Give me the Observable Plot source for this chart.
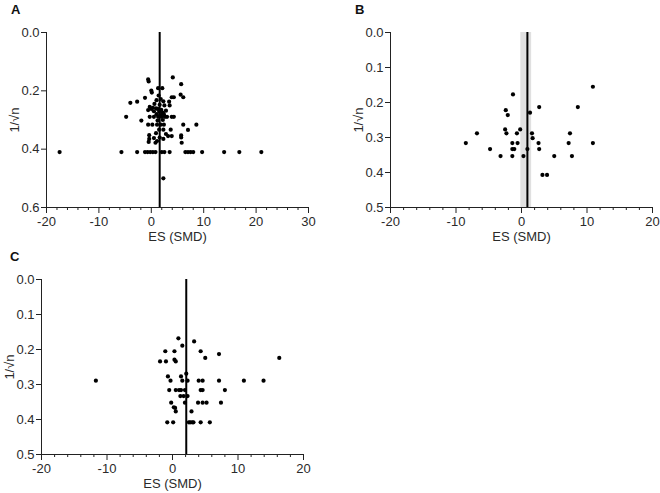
<!DOCTYPE html>
<html>
<head>
<meta charset="utf-8">
<script src="https://cdn.jsdelivr.net/npm/d3@7"></script>
<script src="https://cdn.jsdelivr.net/npm/@observablehq/plot@0.6"></script>
<style>
  html, body { margin: 0; padding: 0; background: #fff; }
  #wrap { position: relative; width: 660px; height: 493px; font-family: "Liberation Sans", Arial, sans-serif; }
  .panel { position: absolute; }
  .tag { position: absolute; font-weight: bold; font-size: 13px; color: #111; }
</style>
</head>
<body>
<div id="wrap"></div>
<script>
// ---------- Panel A data ----------
const aX = [-0.6,-0.5,4.1,5.7,0.0,0.1,1.3,2.1,5.6,6.1,3.9,4.3,-1.2,3.4,-4.0,-2.7,
  1.4,1.8,1.0,2.3,0.6,1.6,2.5,-0.3,0.3,0.9,1.2,1.9,-0.6,0.5,1.5,2.2,3.5,0.0,2.8,1.0,1.7,2.4,
  -4.8,-0.3,0.5,1.3,2.0,2.6,3.0,3.9,4.3,
  -1.9,1.2,2.2,
  -0.6,0.2,1.1,1.8,2.4,6.1,8.6,
  7.0,3.7,1.5,2.3,
  0.9,2.8,-0.4,3.2,3.9,5.7,5.7,1.6,
  -0.4,-0.5,0.5,1.1,2.3,5.8,0.8,
  -17.5,-5.7,-2.7,-1.2,-0.7,-0.2,0.3,0.8,2.0,2.5,3.5,6.5,7.0,7.5,8.0,9.7,13.9,16.8,21.0,
  2.3];
const aY = [0.161,0.168,0.154,0.177,0.199,0.206,0.191,0.191,0.213,0.222,0.222,0.222,0.224,0.237,0.241,0.237,
  0.216,0.228,0.232,0.236,0.245,0.248,0.25,0.255,0.258,0.26,0.262,0.265,0.266,0.27,0.272,0.275,0.25,0.262,0.268,0.28,0.283,0.28,
  0.289,0.289,0.289,0.289,0.289,0.289,0.289,0.289,0.289,
  0.302,0.302,0.30,
  0.316,0.316,0.316,0.316,0.316,0.316,0.316,
  0.334,0.333,0.333,0.333,
  0.345,0.348,0.352,0.355,0.355,0.353,0.36,0.36,
  0.365,0.375,0.362,0.372,0.365,0.378,0.378,
  0.41,0.41,0.41,0.41,0.41,0.41,0.41,0.41,0.41,0.41,0.41,0.41,0.41,0.41,0.41,0.41,0.41,0.41,0.41,
  0.50];
const aPooled = [1.6];
const aXTicks = [-20,-10,0,10,20,30];
const aYTicks = [0,0.2,0.4,0.6];

// ---------- Panel B data ----------
const bX = [-8.5,-6.8,-4.8,-3.2,-1.3,-2.4,-2.1,-2.5,-2.3,-1.4,-1.4,-1.1,-1.4,-0.7,-0.6,-0.2,0.3,0.9,1.3,1.6,1.7,2.6,2.7,2.7,3.2,3.9,5.0,7.2,7.4,7.7,8.6,10.9,10.9];
const bY = [0.316,0.288,0.333,0.353,0.177,0.222,0.236,0.277,0.288,0.316,0.333,0.333,0.353,0.288,0.316,0.277,0.353,0.333,0.229,0.288,0.302,0.316,0.333,0.213,0.407,0.407,0.353,0.316,0.288,0.353,0.213,0.155,0.316];
const bPooled = [0.9];
const bBand = [-0.1, 1.55];
const bXTicks = [-20,-10,0,10,20];
const bYTicks = [0,0.1,0.2,0.3,0.4,0.5];

// ---------- Panel C data ----------
const cX = [-11.7,0.9,3.3,1.5,-1.1,0.3,4.3,7.1,5.0,16.3,-1.9,-1.0,0.3,0.5,2.1,-0.7,1.3,1.5,-0.3,2.3,4.0,4.6,7.1,10.9,13.9,
  -0.5,0.5,1.0,1.3,1.9,4.3,4.6,8.0,1.2,1.7,2.3,-0.2,1.9,3.9,4.6,5.2,7.4,0.2,0.4,0.5,2.9,-0.8,0.1,2.5,2.7,3.0,3.2,4.3,5.7];
const cY = [0.289,0.168,0.177,0.189,0.205,0.205,0.205,0.213,0.224,0.224,0.234,0.234,0.229,0.234,0.269,0.277,0.277,0.289,0.289,0.289,0.289,0.289,0.289,0.289,0.289,
  0.316,0.316,0.316,0.316,0.316,0.316,0.316,0.316,0.333,0.333,0.333,0.352,0.352,0.352,0.352,0.352,0.352,0.365,0.367,0.377,0.377,0.408,0.408,0.408,0.408,0.408,0.408,0.408,0.408];
const cPooled = [2.1];
const cXTicks = [-20,-10,0,10,20];
const cYTicks = [0,0.1,0.2,0.3,0.4,0.5];

const yLabel = "1/\u221An";
const xLabel = "ES (SMD)";

function funnel({xs, ys, pooled, band, xTicks, yTicks, width, height, mL, mR, mT, mB}) {
  const pts = xs.map((x, i) => ({x, y: ys[i]}));
  const xMin = xTicks[0], xMax = xTicks[xTicks.length - 1];
  const yMax = yTicks[yTicks.length - 1];
  const minor = d3.range(xMin, xMax + 0.001, 2).filter(v => !xTicks.includes(v));
  const marks = [];
  if (band) marks.push(Plot.rect([band], {x1: d => d[0], x2: d => d[1], y1: 0, y2: yMax, fill: "#e0e0e0"}));
  marks.push(
    Plot.ruleX(pooled, {x: d => d, y1: 0, y2: yMax, stroke: "#000", strokeWidth: 2}),
    Plot.dot(pts, {x: "x", y: "y", r: 2.1, fill: "#000", stroke: "none"}),
    Plot.ruleY([yMax], {x1: xMin, x2: xMax, stroke: "#222", strokeWidth: 1}),
    Plot.ruleX([xMin], {y1: 0, y2: yMax, stroke: "#222", strokeWidth: 1}),
    Plot.axisX({ticks: minor, tickSize: 3, tickFormat: () => "", label: null, stroke: "#222"}),
    Plot.axisX({ticks: xTicks, tickSize: 6, tickPadding: 3, tickFormat: d => d, stroke: "#222",
      label: xLabel, labelAnchor: "center", labelArrow: "none", labelOffset: 33}),
    Plot.axisY({ticks: yTicks, tickSize: 5, tickPadding: 2, tickFormat: d3.format(".1f"), stroke: "#222",
      label: yLabel, labelAnchor: "center", labelArrow: "none", labelOffset: 37})
  );
  return Plot.plot({
    width, height,
    marginLeft: mL, marginRight: mR, marginTop: mT, marginBottom: mB,
    x: {domain: [xMin, xMax]},
    y: {domain: [0, yMax], reverse: true},
    style: {fontFamily: "'Liberation Sans', Arial, sans-serif", fontSize: "13px", color: "#2a2a2a", background: "#fff", overflow: "visible"},
    marks
  });
}

const wrap = document.getElementById("wrap");
function place(node, left, top) {
  const d = document.createElement("div");
  d.className = "panel";
  d.style.left = left + "px";
  d.style.top = top + "px";
  d.appendChild(node);
  wrap.appendChild(d);
}
function tag(t, left, top) {
  const d = document.createElement("div");
  d.className = "tag";
  d.textContent = t;
  d.style.left = left + "px";
  d.style.top = top + "px";
  wrap.appendChild(d);
}

place(funnel({xs: aX, ys: aY, pooled: aPooled, xTicks: aXTicks, yTicks: aYTicks,
  width: 330, height: 245, mL: 46, mR: 22, mT: 32, mB: 38}), 0, 0);
place(funnel({xs: bX, ys: bY, pooled: bPooled, band: bBand, xTicks: bXTicks, yTicks: bYTicks,
  width: 330, height: 245, mL: 60, mR: 8, mT: 32, mB: 38}), 330, 0);
place(funnel({xs: cX, ys: cY, pooled: cPooled, xTicks: cXTicks, yTicks: cYTicks,
  width: 330, height: 248, mL: 41, mR: 27, mT: 34, mB: 39}), 0, 245);

tag("A", 11, 2);
tag("B", 355, 2);
tag("C", 10, 249);
</script>
</body>
</html>
